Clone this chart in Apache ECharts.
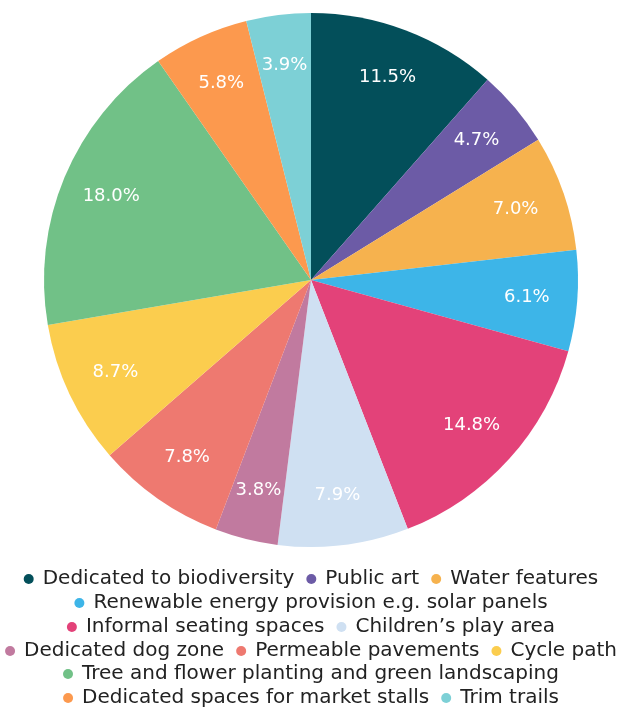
<!DOCTYPE html>
<html>
<head>
<meta charset="utf-8">
<script src="https://cdn.jsdelivr.net/npm/echarts@6/dist/echarts.min.js"></script>
<style>
  html, body { margin: 0; padding: 0; background: #ffffff; }
  #chart { width: 622px; height: 707px; }
</style>
</head>
<body>
<div id="chart"></div>
<script>
// Share of responses per amenity (percent), clockwise from 12 o'clock
const categories = [
  'Dedicated to biodiversity',
  'Public art',
  'Water features',
  'Renewable energy provision e.g. solar panels',
  'Informal seating spaces',
  'Children\u2019s play area',
  'Dedicated dog zone',
  'Permeable pavements',
  'Cycle path',
  'Tree and flower planting and green landscaping',
  'Dedicated spaces for market stalls',
  'Trim trails'
];
const shares = [11.5, 4.7, 7.0, 6.1, 14.8, 7.9, 3.8, 7.8, 8.7, 18.0, 5.8, 3.9];
const colors = [
  '#034F5A', '#6C5BA6', '#F6B24E', '#3DB5E8', '#E34279', '#CFE0F2',
  '#C17A9F', '#EE7970', '#FBCD4E', '#71C187', '#FC994E', '#7DD0D6'
];

// Legend rows (indices into categories)
const legendRows = [[0, 1, 2], [3], [4, 5], [6, 7, 8], [9], [10, 11]];
const legendTops = [569, 593, 617, 641, 664, 688];

const FONT = '"DejaVu Sans", Verdana, sans-serif';
const CENTER = [311, 280];
const R = 267;

const pieData = categories.map((name, i) => ({
  name,
  value: shares[i],
  itemStyle: { color: colors[i] }
}));

const labelData = categories.map((name, i) => ({
  name,
  value: shares[i],
  itemStyle: { color: 'rgba(0,0,0,0)' }
}));

const legends = legendRows.map((row, r) => ({
  data: row.map(i => ({ name: categories[i], itemStyle: { color: colors[i] } })),
  left: 'center',
  top: legendTops[r],
  orient: 'horizontal',
  icon: 'circle',
  itemWidth: 18,
  itemHeight: 10,
  itemGap: 12,
  padding: 0,
  selectedMode: false,
  textStyle: { fontFamily: FONT, fontSize: 20, color: '#222222' }
}));

const chart = echarts.init(document.getElementById('chart'), null, { renderer: 'canvas' });
chart.setOption({
  animation: false,
  color: colors,
  legend: legends,
  series: [
    {
      type: 'pie',
      center: CENTER,
      radius: [0, R],
      startAngle: 90,
      clockwise: true,
      avoidLabelOverlap: false,
      label: { show: false },
      labelLine: { show: false },
      itemStyle: { borderWidth: 0 },
      emphasis: { disabled: true },
      data: pieData
    },
    {
      type: 'pie',
      center: CENTER,
      radius: [160, R],
      startAngle: 90,
      clockwise: true,
      silent: true,
      avoidLabelOverlap: false,
      labelLine: { show: false },
      emphasis: { disabled: true },
      label: {
        show: true,
        position: 'inside',
        color: '#ffffff',
        fontFamily: FONT,
        fontSize: 18,
        formatter: p => p.value.toFixed(1) + '%'
      },
      data: labelData
    }
  ]
});
</script>
</body>
</html>
